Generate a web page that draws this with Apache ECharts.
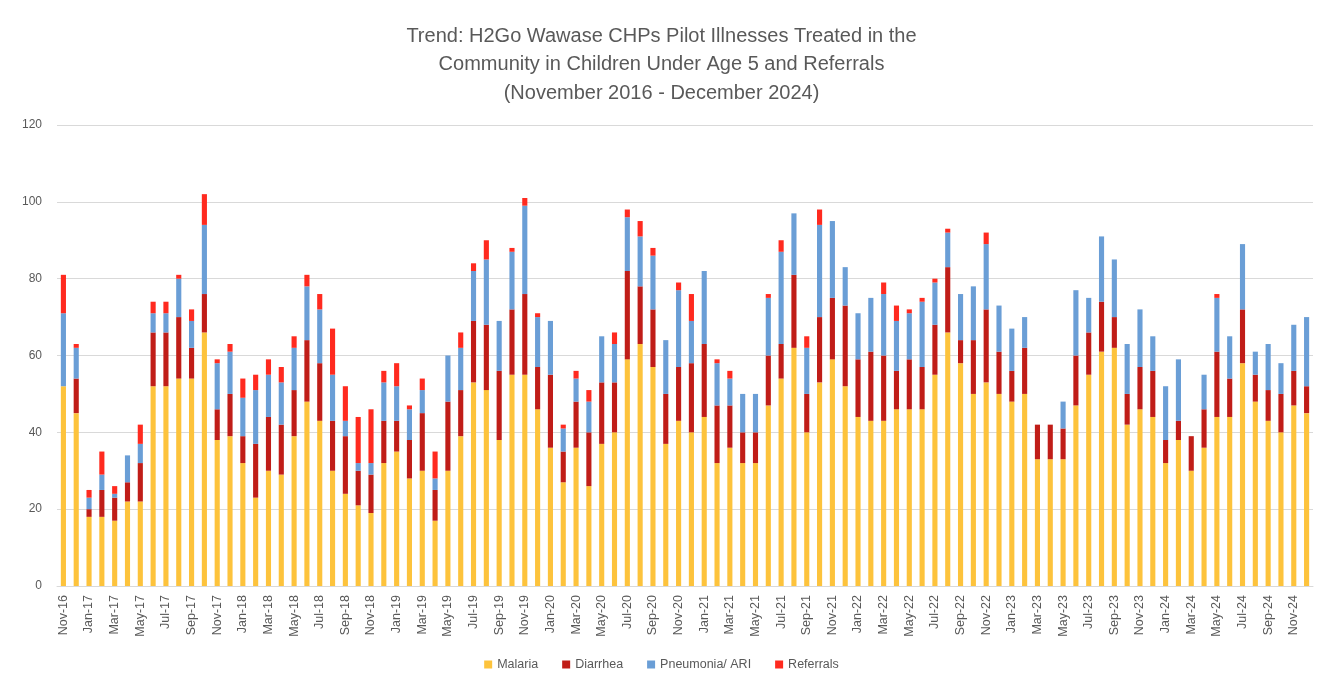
<!DOCTYPE html>
<html>
<head>
<meta charset="utf-8">
<script src="https://cdn.jsdelivr.net/npm/echarts@6/dist/echarts.min.js"></script>
<style>
  html, body { margin: 0; padding: 0; background: #fff; }
  #main { width: 1323px; height: 688px; }
</style>
</head>
<body>
<div id="main"></div>
<script>
// months Nov 2016 - Dec 2024
var months = [
  'Nov-16','Dec-16',
  'Jan-17','Feb-17','Mar-17','Apr-17','May-17','Jun-17','Jul-17','Aug-17','Sep-17','Oct-17','Nov-17','Dec-17',
  'Jan-18','Feb-18','Mar-18','Apr-18','May-18','Jun-18','Jul-18','Aug-18','Sep-18','Oct-18','Nov-18','Dec-18',
  'Jan-19','Feb-19','Mar-19','Apr-19','May-19','Jun-19','Jul-19','Aug-19','Sep-19','Oct-19','Nov-19','Dec-19',
  'Jan-20','Feb-20','Mar-20','Apr-20','May-20','Jun-20','Jul-20','Aug-20','Sep-20','Oct-20','Nov-20','Dec-20',
  'Jan-21','Feb-21','Mar-21','Apr-21','May-21','Jun-21','Jul-21','Aug-21','Sep-21','Oct-21','Nov-21','Dec-21',
  'Jan-22','Feb-22','Mar-22','Apr-22','May-22','Jun-22','Jul-22','Aug-22','Sep-22','Oct-22','Nov-22','Dec-22',
  'Jan-23','Feb-23','Mar-23','Apr-23','May-23','Jun-23','Jul-23','Aug-23','Sep-23','Oct-23','Nov-23','Dec-23',
  'Jan-24','Feb-24','Mar-24','Apr-24','May-24','Jun-24','Jul-24','Aug-24','Sep-24','Oct-24','Nov-24','Dec-24'
];

var malaria = [
  52,45,
  18,18,17,22,22,52,52,54,54,66,38,39,
  32,23,30,29,39,48,43,30,24,21,19,32,
  35,28,30,17,30,39,53,51,38,55,55,46,
  36,27,36,26,37,40,59,63,57,37,43,40,
  44,32,36,32,32,47,54,62,40,53,59,52,
  44,43,43,46,46,46,55,66,58,50,53,50,
  48,50,33,33,33,47,55,61,62,42,46,44,
  32,38,30,36,44,44,58,48,43,40,47,45
];
var diarrhea = [
  0,9,
  2,7,6,5,10,14,14,16,8,10,8,11,
  7,14,14,13,12,16,15,13,15,9,10,11,
  8,10,15,8,18,12,16,17,18,17,21,11,
  19,8,12,14,16,13,23,15,15,13,14,18,
  19,15,11,8,8,13,9,19,10,17,16,21,
  15,18,17,10,13,11,13,17,6,14,19,11,
  8,12,9,9,8,13,11,13,8,8,11,12,
  6,5,9,10,17,10,14,7,8,10,9,7
];
var pneumonia = [
  19,8,
  3,4,1,7,5,5,5,10,7,18,12,11,
  10,14,11,11,11,14,14,12,4,2,3,10,
  9,8,6,3,12,11,13,17,13,15,23,13,
  14,6,6,8,12,10,14,13,14,14,20,11,
  19,11,7,10,10,15,24,16,12,24,20,10,
  12,14,16,13,12,17,11,9,12,14,17,12,
  11,8,0,0,7,17,9,17,15,13,15,9,
  14,16,0,9,14,11,17,6,12,8,12,18
];
var referrals = [
  10,1,
  2,6,2,0,5,3,3,1,3,8,1,2,
  5,4,4,4,3,3,4,12,9,12,14,3,
  6,1,3,7,0,4,2,5,0,1,2,1,
  0,1,2,3,0,3,2,4,2,0,2,7,
  0,1,2,0,0,1,3,0,3,4,0,0,
  0,0,3,4,1,1,1,1,0,0,3,0,
  0,0,0,0,0,0,0,0,0,0,0,0,
  0,0,0,0,1,0,0,0,0,0,0,0
];

var colors = ['#FDC33C', '#C01D18', '#6A9ED6', '#FF2A1F'];
var grey = '#595959';
var fontFam = '"Liberation Sans", Arial, sans-serif';

var chart = echarts.init(document.getElementById('main'));

function barSeries(name, data, color) {
  return {
    name: name,
    type: 'bar',
    stack: 'total',
    data: data,
    barWidth: '40%',
    itemStyle: { color: color },
    emphasis: { disabled: true }
  };
}

chart.setOption({
  animation: false,
  color: colors,
  title: {
    text: 'Trend: H2Go Wawase CHPs Pilot Illnesses Treated in the\nCommunity in Children Under Age 5 and Referrals\n(November 2016 - December 2024)',
    left: 'center',
    top: 17,
    textStyle: {
      fontFamily: fontFam,
      fontSize: 20,
      fontWeight: 'normal',
      color: grey,
      lineHeight: 28.5
    }
  },
  legend: {
    bottom: 12,
    left: 'center',
    itemWidth: 8,
    itemHeight: 8,
    itemGap: 24,
    icon: 'rect',
    textStyle: { fontFamily: fontFam, fontSize: 12.5, color: grey },
    data: ['Malaria', 'Diarrhea', 'Pneumonia/ ARI', 'Referrals']
  },
  grid: {
    left: 57,
    right: 10,
    top: 125,
    bottom: 102
  },
  xAxis: {
    type: 'category',
    data: months,
    axisLine: { lineStyle: { color: '#d9d9d9' } },
    axisTick: { interval: 1, length: 5, lineStyle: { color: '#d9d9d9' } },
    axisLabel: {
      interval: 1,
      rotate: 90,
      fontFamily: fontFam,
      fontSize: 12.5,
      color: grey,
      margin: 9
    }
  },
  yAxis: {
    type: 'value',
    min: 0,
    max: 120,
    interval: 20,
    axisLine: { show: false },
    axisTick: { show: false },
    axisLabel: { fontFamily: fontFam, fontSize: 12, color: grey, margin: 15 },
    splitLine: { lineStyle: { color: '#d9d9d9' } }
  },
  series: [
    barSeries('Malaria', malaria, colors[0]),
    barSeries('Diarrhea', diarrhea, colors[1]),
    barSeries('Pneumonia/ ARI', pneumonia, colors[2]),
    barSeries('Referrals', referrals, colors[3])
  ]
});
</script>
</body>
</html>
